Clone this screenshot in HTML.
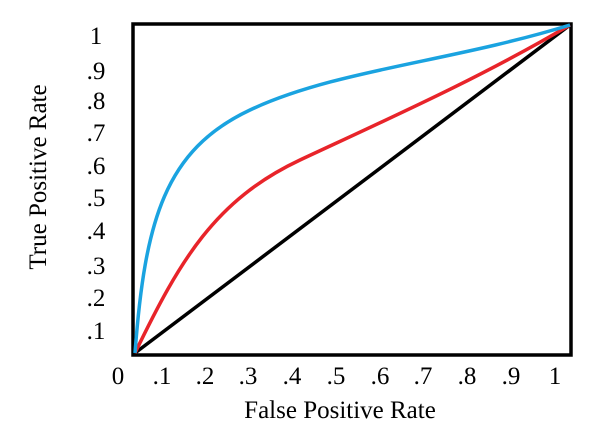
<!DOCTYPE html>
<html><head><style>
body{margin:0;background:#fff;}
text{font-family:"Liberation Serif",serif;font-size:25px;fill:#000;}
</style></head><body>
<svg width="602" height="431" viewBox="0 0 602 431">
<rect x="133" y="24" width="438" height="331" fill="none" stroke="#000" stroke-width="3.5"/>
<line x1="135" y1="353" x2="570" y2="25" stroke="#000" stroke-width="3.5"/>
<path d="M135,353 C180,260 215,200 300,160 C390,118 480,78 570,25" fill="none" stroke="#e8242a" stroke-width="3.5"/>
<path d="M135,353 C145,220 165,150 250,110 S450,62 570,25" fill="none" stroke="#1aa3e0" stroke-width="3.5"/>
<g text-anchor="middle">
<text x="118" y="384">0</text><text x="162" y="384">.1</text><text x="205" y="384">.2</text><text x="248" y="384">.3</text><text x="292" y="384">.4</text><text x="336" y="384">.5</text><text x="380" y="384">.6</text><text x="423" y="384">.7</text><text x="467" y="384">.8</text><text x="511" y="384">.9</text><text x="555" y="384">1</text>
</g>
<g text-anchor="middle">
<text x="96" y="44">1</text><text x="96" y="79">.9</text><text x="96" y="109">.8</text><text x="96" y="141">.7</text><text x="96" y="174">.6</text><text x="96" y="206">.5</text><text x="96" y="239">.4</text><text x="96" y="274">.3</text><text x="96" y="306">.2</text><text x="96" y="339">.1</text>
</g>
<text x="340" y="418" text-anchor="middle">False Positive Rate</text>
<text x="0" y="0" text-anchor="middle" transform="translate(46,177) rotate(-90)">True Positive Rate</text>
</svg>
</body></html>
